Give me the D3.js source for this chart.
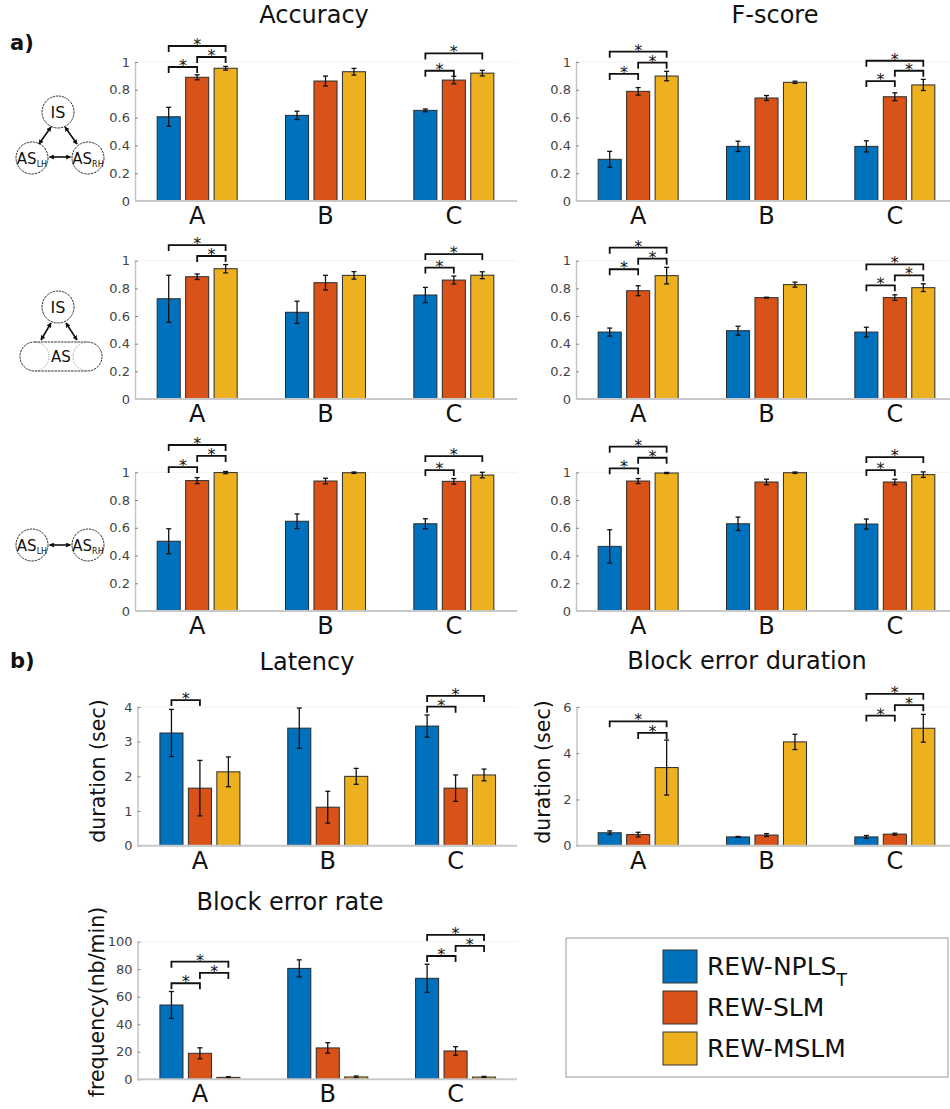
<!DOCTYPE html>
<html>
<head>
<meta charset="utf-8">
<script src="https://cdn.jsdelivr.net/npm/d3@7"></script>
<style>
  body { margin: 0; background: #fff; }
  svg { display: block; font-family: "DejaVu Sans", Verdana, sans-serif; }
</style>
</head>
<body>
<div id="chart"></div>
<script>
// categories and series
const categories = ["A", "B", "C"];
const series = ["REW-NPLS", "REW-SLM", "REW-MSLM"];
const colors = ["#0072BD", "#D95319", "#EDB120"];

// a) rows: mean per category [blue, orange, yellow], error half-widths, significance [cat, i, j, level]
const accTopMean = [[0.606, 0.89, 0.955], [0.616, 0.863, 0.93], [0.652, 0.87, 0.92]];
const accTopErr  = [[0.068, 0.018, 0.013], [0.03, 0.036, 0.024], [0.01, 0.027, 0.02]];
const accTopSig  = [["A", 0, 1, 0.964], ["A", 1, 2, 1.036], ["A", 0, 2, 1.115], ["C", 0, 1, 0.937], ["C", 0, 2, 1.062]];

const fTopMean = [[0.30, 0.789, 0.899], [0.393, 0.741, 0.854], [0.393, 0.75, 0.835]];
const fTopErr  = [[0.057, 0.027, 0.034], [0.037, 0.018, 0.008], [0.04, 0.028, 0.04]];
const fTopSig  = [["A", 0, 1, 0.914], ["A", 1, 2, 0.995], ["A", 0, 2, 1.074], ["C", 0, 1, 0.863], ["C", 1, 2, 0.937], ["C", 0, 2, 1.009]];

const accMidMean = [[0.725, 0.884, 0.942], [0.627, 0.841, 0.894], [0.752, 0.86, 0.895]];
const accMidErr  = [[0.17, 0.02, 0.03], [0.08, 0.053, 0.027], [0.055, 0.029, 0.025]];
const accMidSig  = [["A", 1, 2, 1.034], ["A", 0, 2, 1.113], ["C", 0, 1, 0.95], ["C", 0, 2, 1.048]];

const fMidMean = [[0.484, 0.783, 0.892], [0.494, 0.733, 0.827], [0.484, 0.733, 0.805]];
const fMidErr  = [[0.029, 0.036, 0.06], [0.032, 0.003, 0.018], [0.035, 0.02, 0.028]];
const fMidSig  = [["A", 0, 1, 0.938], ["A", 1, 2, 1.015], ["A", 0, 2, 1.094], ["C", 0, 1, 0.822], ["C", 1, 2, 0.894], ["C", 0, 2, 0.974]];

const accBotMean = [[0.503, 0.94, 0.998], [0.647, 0.937, 0.997], [0.629, 0.935, 0.98]];
const accBotErr  = [[0.09, 0.022, 0.008], [0.053, 0.02, 0.005], [0.036, 0.02, 0.02]];
const accBotSig  = [["A", 0, 1, 1.038], ["A", 1, 2, 1.118], ["A", 0, 2, 1.197], ["C", 0, 1, 1.016], ["C", 0, 2, 1.117]];

const fBotMean = [[0.466, 0.937, 0.995], [0.629, 0.93, 0.997], [0.627, 0.93, 0.983]];
const fBotErr  = [[0.12, 0.018, 0.004], [0.048, 0.02, 0.005], [0.036, 0.02, 0.02]];
const fBotSig  = [["A", 0, 1, 1.029], ["A", 1, 2, 1.105], ["A", 0, 2, 1.185], ["C", 0, 1, 1.016], ["C", 0, 2, 1.11]];

// b) panels
const latMean = [[3.25, 1.66, 2.13], [3.39, 1.11, 2.0], [3.45, 1.66, 2.04]];
const latErr  = [[0.68, 0.8, 0.43], [0.58, 0.46, 0.23], [0.32, 0.38, 0.17]];
const latSig  = [["A", 0, 1, 4.2], ["C", 0, 1, 4.01], ["C", 0, 2, 4.32]];

const durMean = [[0.56, 0.48, 3.38], [0.38, 0.46, 4.49], [0.38, 0.5, 5.08]];
const durErr  = [[0.08, 0.1, 1.19], [0.02, 0.06, 0.33], [0.06, 0.04, 0.6]];
const durSig  = [["A", 1, 2, 4.88], ["A", 0, 2, 5.38], ["C", 0, 1, 5.63], ["C", 1, 2, 6.08], ["C", 0, 2, 6.57]];

const rateMean = [[54, 18.9, 1.4], [80.6, 22.8, 1.7], [73.4, 20.6, 1.6]];
const rateErr  = [[9.8, 4, 0.5], [6.2, 3.8, 0.7], [10.2, 3.1, 0.5]];
const rateSig  = [["A", 0, 1, 69.8], ["A", 1, 2, 77.3], ["A", 0, 2, 85.5], ["C", 0, 1, 89.6], ["C", 1, 2, 96.9], ["C", 0, 2, 104.9]];

const ratioTicks = [0, 0.2, 0.4, 0.6, 0.8, 1];
const latTicks = [0, 1, 2, 3, 4];
const durTicks = [0, 2, 4, 6];
const rateTicks = [0, 20, 40, 60, 80, 100];

const W = 950, H = 1109;
const svg = d3.select("#chart").append("svg")
  .attr("width", W).attr("height", H)
  .attr("viewBox", `0 0 ${W} ${H}`);
svg.append("rect").attr("width", W).attr("height", H).attr("fill", "#fff");

const defs = svg.append("defs");
defs.append("marker")
  .attr("id", "arr")
  .attr("viewBox", "0 0 8 8")
  .attr("refX", 7).attr("refY", 4)
  .attr("markerWidth", 5).attr("markerHeight", 5)
  .attr("markerUnits", "userSpaceOnUse")
  .attr("orient", "auto-start-reverse")
  .append("path").attr("d", "M0,0 L8,4 L0,8 Z").attr("fill", "#111");

// layout of the panels (pixels)
const panels = [
  { mean: accTopMean, err: accTopErr, sig: accTopSig, domain: [0, 1], ticks: ratioTicks, x0: 133, x1: 518, axisX: 135, axisEnd: 517, yTop: 62, yBot: 201 },
  { mean: fTopMean, err: fTopErr, sig: fTopSig, domain: [0, 1], ticks: ratioTicks, x0: 574, x1: 959, axisX: 576, axisEnd: 950, yTop: 62, yBot: 201 },
  { mean: accMidMean, err: accMidErr, sig: accMidSig, domain: [0, 1], ticks: ratioTicks, x0: 133, x1: 518, axisX: 135, axisEnd: 517, yTop: 260.7, yBot: 399 },
  { mean: fMidMean, err: fMidErr, sig: fMidSig, domain: [0, 1], ticks: ratioTicks, x0: 574, x1: 959, axisX: 576, axisEnd: 950, yTop: 260.7, yBot: 399 },
  { mean: accBotMean, err: accBotErr, sig: accBotSig, domain: [0, 1], ticks: ratioTicks, x0: 133, x1: 518, axisX: 135, axisEnd: 517, yTop: 472.3, yBot: 611 },
  { mean: fBotMean, err: fBotErr, sig: fBotSig, domain: [0, 1], ticks: ratioTicks, x0: 574, x1: 959, axisX: 576, axisEnd: 950, yTop: 472.3, yBot: 611 },
  { mean: latMean, err: latErr, sig: latSig, domain: [0, 4], ticks: latTicks, x0: 136, x1: 519.5, axisX: 137.5, axisEnd: 517, yTop: 707, yBot: 845.7 },
  { mean: durMean, err: durErr, sig: durSig, domain: [0, 6], ticks: durTicks, x0: 574, x1: 959, axisX: 576.5, axisEnd: 950, yTop: 707, yBot: 845.7 },
  { mean: rateMean, err: rateErr, sig: rateSig, domain: [0, 100], ticks: rateTicks, x0: 136, x1: 519.5, axisX: 137.5, axisEnd: 517, yTop: 941.7, yBot: 1079.3 }
];

function drawPanel(p) {
  const g = svg.append("g");
  const x = d3.scaleBand().domain(categories).range([p.x0, p.x1]);
  const xs = d3.scaleBand().domain([0, 1, 2]).range([-40, 40]).paddingInner(0.19);
  const y = d3.scaleLinear().domain(p.domain).range([p.yBot, p.yTop]);
  const cx = (c, i) => x(c) + x.bandwidth() / 2 + xs(i) + xs.bandwidth() / 2;

  // faint top line
  g.append("line")
    .attr("x1", p.axisX).attr("x2", p.axisEnd)
    .attr("y1", p.yTop).attr("y2", p.yTop)
    .attr("stroke", "#f2f2f2").attr("stroke-width", 1);

  const rows = [];
  categories.forEach((c, ci) => {
    series.forEach((s, si) => {
      rows.push({ c, si, v: p.mean[ci][si], e: p.err[ci][si] });
    });
  });

  g.selectAll("rect.bar").data(rows).enter().append("rect")
    .attr("class", "bar")
    .attr("x", d => x(d.c) + x.bandwidth() / 2 + xs(d.si))
    .attr("width", xs.bandwidth())
    .attr("y", d => y(d.v))
    .attr("height", d => y(0) - y(d.v))
    .attr("fill", d => colors[d.si])
    .attr("stroke", "#2b2b2b").attr("stroke-width", 1);

  // error bars
  const eb = g.selectAll("g.err").data(rows).enter().append("g")
    .attr("stroke", "#111").attr("stroke-width", 1.3);
  eb.append("line")
    .attr("x1", d => cx(d.c, d.si)).attr("x2", d => cx(d.c, d.si))
    .attr("y1", d => y(d.v + d.e)).attr("y2", d => y(Math.max(d.v - d.e, 0)));
  eb.append("line")
    .attr("x1", d => cx(d.c, d.si) - 2.5).attr("x2", d => cx(d.c, d.si) + 2.5)
    .attr("y1", d => y(d.v + d.e)).attr("y2", d => y(d.v + d.e));
  eb.append("line")
    .attr("x1", d => cx(d.c, d.si) - 2.5).attr("x2", d => cx(d.c, d.si) + 2.5)
    .attr("y1", d => y(Math.max(d.v - d.e, 0))).attr("y2", d => y(Math.max(d.v - d.e, 0)));

  // axes
  const yAxis = d3.axisLeft(y).tickValues(p.ticks)
    .tickFormat(d3.format("~g"))
    .tickSizeInner(-3).tickSizeOuter(0).tickPadding(5);
  const ag = g.append("g").attr("transform", `translate(${p.axisX},0)`).call(yAxis);
  ag.select(".domain").attr("stroke", "#c4c4c4").attr("stroke-width", 1.5);
  ag.selectAll(".tick line").attr("stroke", "#888");
  ag.selectAll(".tick text")
    .attr("fill", "#444")
    .attr("font-size", 13)
    .attr("font-family", "DejaVu Sans, sans-serif");

  g.append("line")
    .attr("x1", p.axisX).attr("x2", p.axisEnd)
    .attr("y1", y(0)).attr("y2", y(0))
    .attr("stroke", "#c8c8c8").attr("stroke-width", 2);

  g.selectAll("text.cat").data(categories).enter().append("text")
    .attr("x", d => x(d) + x.bandwidth() / 2)
    .attr("y", y(0) + 23)
    .attr("text-anchor", "middle")
    .attr("font-size", 24)
    .attr("fill", "#111")
    .text(d => d);

  // significance brackets
  const sg = g.selectAll("g.sig").data(p.sig).enter().append("g");
  sg.append("path")
    .attr("d", d => {
      const xa = cx(d[0], d[1]), xb = cx(d[0], d[2]), yy = y(d[3]);
      return `M${xa},${yy + 6}V${yy}H${xb}V${yy + 6}`;
    })
    .attr("fill", "none").attr("stroke", "#111").attr("stroke-width", 1.8);
  sg.append("text")
    .attr("x", d => (cx(d[0], d[1]) + cx(d[0], d[2])) / 2)
    .attr("y", d => y(d[3]) + 4)
    .attr("text-anchor", "middle")
    .attr("font-size", 16)
    .attr("fill", "#111")
    .text("*");
}

panels.forEach(drawPanel);

// titles and labels
const titles = [
  { t: "Accuracy", x: 314, y: 23 },
  { t: "F-score", x: 775, y: 23 },
  { t: "Latency", x: 307, y: 670 },
  { t: "Block error duration", x: 747, y: 669 },
  { t: "Block error rate", x: 290, y: 910 }
];
svg.selectAll("text.title").data(titles).enter().append("text")
  .attr("x", d => d.x).attr("y", d => d.y)
  .attr("text-anchor", "middle")
  .attr("font-size", 24)
  .attr("fill", "#111")
  .text(d => d.t);

svg.append("text").attr("x", 10).attr("y", 50)
  .attr("font-size", 21).attr("font-weight", "bold").attr("fill", "#111").text("a)");
svg.append("text").attr("x", 10).attr("y", 668)
  .attr("font-size", 21).attr("font-weight", "bold").attr("fill", "#111").text("b)");

const ylabels = [
  { t: "duration (sec)", x: 98, y: 771 },
  { t: "duration (sec)", x: 543, y: 772 },
  { t: "frequency(nb/min)", x: 97, y: 1002 }
];
svg.selectAll("text.ylab").data(ylabels).enter().append("text")
  .attr("transform", d => `translate(${d.x},${d.y}) rotate(-90)`)
  .attr("text-anchor", "middle")
  .attr("dy", "0.35em")
  .attr("font-size", 20.5)
  .attr("fill", "#111")
  .text(d => d.t);

// legend
const lg = svg.append("g");
lg.append("rect").attr("x", 566).attr("y", 938).attr("width", 382).attr("height", 139)
  .attr("fill", "#fff").attr("stroke", "#9a9a9a").attr("stroke-width", 1);
series.forEach((s, i) => {
  const yy = 950 + i * 41;
  lg.append("rect").attr("x", 663).attr("y", yy).attr("width", 34).attr("height", 33)
    .attr("fill", colors[i]).attr("stroke", "#333").attr("stroke-width", 1);
  const t = lg.append("text").attr("x", 707).attr("y", yy + 25)
    .attr("font-size", 25).attr("fill", "#111").text(s);
  if (i === 0) {
    t.append("tspan").attr("dy", 11).attr("font-size", 17).text("T");
  }
});

// network diagrams
const dg = svg.append("g").attr("fill", "none");
function node(cx, cy, label, sub) {
  dg.append("circle").attr("cx", cx).attr("cy", cy).attr("r", 16)
    .attr("fill", "#fff").attr("stroke", "#333").attr("stroke-width", 1)
    .attr("stroke-dasharray", "2.5,0.8");
  const t = dg.append("text").attr("x", cx).attr("y", cy + 5.5)
    .attr("text-anchor", "middle").attr("fill", "#111")
    .attr("font-size", sub ? 15 : 16).text(label);
  if (sub) t.append("tspan").attr("dy", 3).attr("font-size", 8).text(sub);
}
function arrow(x1, y1, x2, y2) {
  dg.append("line").attr("x1", x1).attr("y1", y1).attr("x2", x2).attr("y2", y2)
    .attr("stroke", "#111").attr("stroke-width", 1.6)
    .attr("marker-start", "url(#arr)").attr("marker-end", "url(#arr)");
}
// row 1
node(58, 112, "IS");
node(32, 158, "AS", "LH");
node(88, 158, "AS", "RH");
arrow(51, 127, 39, 144);
arrow(65, 127, 77, 144);
arrow(49.5, 157, 70.5, 157);
// row 2
node(58, 307, "IS");
dg.append("rect").attr("x", 20).attr("y", 342).attr("width", 82).attr("height", 29).attr("rx", 14.5)
  .attr("fill", "#fff").attr("stroke", "#333").attr("stroke-width", 1).attr("stroke-dasharray", "2.5,0.8");
dg.append("path").attr("d", "M34.5,342 A14.5,14.5 0 0 1 34.5,371 M87.5,342 A14.5,14.5 0 0 0 87.5,371")
  .attr("stroke", "#666").attr("stroke-width", 0.8).attr("stroke-dasharray", "1,1.5");
dg.append("text").attr("x", 61).attr("y", 362).attr("text-anchor", "middle")
  .attr("font-size", 15).attr("fill", "#111").text("AS");
arrow(51, 323, 41, 340);
arrow(66, 323, 77, 340);
// row 3
node(32, 545, "AS", "LH");
node(88, 545, "AS", "RH");
arrow(49.5, 545, 70.5, 545);
</script>
</body>
</html>
